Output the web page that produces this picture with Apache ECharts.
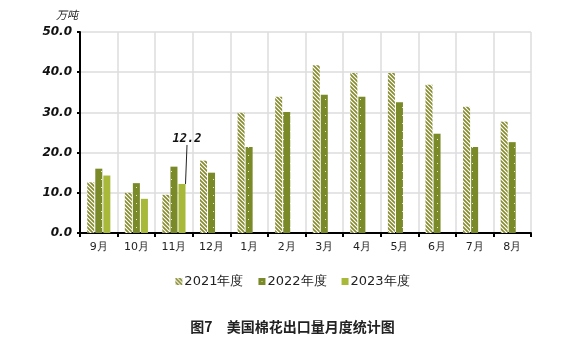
<!DOCTYPE html>
<html>
<head>
<meta charset="utf-8">
<script src="https://cdn.jsdelivr.net/npm/echarts@6/dist/echarts.min.js"></script>
<style>
  html, body { margin: 0; padding: 0; background: #fff; }
  #chart { width: 585px; height: 352px; }
</style>
</head>
<body>
<div id="chart"></div>
<script>
  var months = ['9月', '10月', '11月', '12月', '1月', '2月', '3月', '4月', '5月', '6月', '7月', '8月']
  var data2021 = [12.6, 10.0, 9.5, 18.0, 29.9, 33.9, 41.7, 39.8, 39.8, 36.9, 31.4, 27.7]
  var data2022 = [16.0, 12.4, 16.5, 15.0, 21.4, 30.1, 34.4, 33.9, 32.5, 24.7, 21.4, 22.6]
  var data2023 = [14.3, 8.5, 12.2]
  var yTicks = [0, 10, 20, 30, 40, 50]

  // diagonal stripes for 2021
  function stripePattern() {
    var c = document.createElement('canvas')
    c.width = 4
    c.height = 4
    var ctx = c.getContext('2d')
    ctx.fillStyle = '#ffffff'
    ctx.fillRect(0, 0, 4, 4)
    ctx.strokeStyle = '#858a2a'
    ctx.lineWidth = 1.6
    ctx.beginPath()
    ctx.moveTo(-1, -1)
    ctx.lineTo(5, 5)
    ctx.moveTo(-1, 3)
    ctx.lineTo(1, 5)
    ctx.moveTo(3, -1)
    ctx.lineTo(5, 1)
    ctx.stroke()
    return c
  }
  // dark olive with small white dots for 2022
  function dotPattern() {
    var c = document.createElement('canvas')
    c.width = 7
    c.height = 8
    var ctx = c.getContext('2d')
    ctx.fillStyle = '#7a8a28'
    ctx.fillRect(0, 0, 7, 8)
    ctx.fillStyle = '#e8ecc8'
    ctx.fillRect(3, 3, 1, 1)
    return c
  }

  var chart = echarts.init(document.getElementById('chart'))
  var stripes = { image: stripePattern(), repeat: 'repeat' }
  var dots = { image: dotPattern(), repeat: 'repeat' }

  chart.setOption({
    animation: false,
    backgroundColor: '#fff',
    title: {
      text: '图7　美国棉花出口量月度统计图',
      left: 'center',
      top: 315,
      textStyle: {
        fontFamily: 'Noto Sans CJK SC',
        fontSize: 14,
        fontWeight: 'bold',
        color: '#222',
      },
    },
    legend: {
      top: 270,
      left: 'center',
      itemWidth: 7,
      itemHeight: 7,
      itemGap: 15,
      icon: 'rect',
      textStyle: {
        fontFamily: 'DejaVu Sans',
        fontSize: 13,
        color: '#222',
        padding: [0, 0, 0, -3],
      },
      data: ['2021年度', '2022年度', '2023年度'],
    },
    grid: {
      left: 80,
      right: 54,
      top: 32,
      bottom: 119,
    },
    xAxis: {
      type: 'category',
      data: months,
      axisLine: { lineStyle: { color: '#000', width: 2 } },
      axisTick: { show: true, length: 4, lineStyle: { color: '#000', width: 2 } },
      axisLabel: {
        margin: 9,
        fontFamily: 'DejaVu Sans',
        fontSize: 11,
        color: '#222',
      },
      splitLine: { show: true, lineStyle: { color: '#dcdcdc', width: 1.5 } },
    },
    yAxis: {
      type: 'value',
      min: yTicks[0],
      max: yTicks[yTicks.length - 1],
      interval: 10,
      name: '万吨',
      nameLocation: 'end',
      nameGap: 12,
      nameTextStyle: {
        fontFamily: 'Noto Sans CJK SC',
        fontSize: 11,
        fontStyle: 'italic',
        color: '#222',
        align: 'right',
        padding: [0, 2, 0, 0],
      },
      axisLine: { show: true, lineStyle: { color: '#000', width: 2 } },
      axisTick: { show: true, length: 3, lineStyle: { color: '#000', width: 2 } },
      axisLabel: {
        margin: 8,
        fontFamily: 'DejaVu Sans',
        fontSize: 12,
        fontWeight: 'bold',
        fontStyle: 'italic',
        color: '#111',
        formatter: function (v) {
          return v.toFixed(1)
        },
      },
      splitLine: { show: true, lineStyle: { color: '#dcdcdc', width: 1.5 } },
    },
    series: [
      {
        name: '2021年度',
        type: 'bar',
        barWidth: 7,
        barGap: '15%',
        itemStyle: { color: stripes },
        data: data2021,
      },
      {
        name: '2022年度',
        type: 'bar',
        barWidth: 7,
        barGap: '15%',
        itemStyle: { color: dots },
        data: data2022,
      },
      {
        name: '2023年度',
        type: 'bar',
        barWidth: 7,
        barGap: '15%',
        itemStyle: { color: '#a8b838' },
        data: data2023.map(function (v, i) {
          if (i !== 2) return v
          return {
            value: v,
            label: {
              show: true,
              position: 'top',
              formatter: function (p) {
                return p.value.toFixed(1)
              },
              fontFamily: 'DejaVu Sans Mono',
              fontSize: 12,
              fontWeight: 'bold',
              fontStyle: 'italic',
              color: '#111',
            },
            labelLine: { show: true, lineStyle: { color: '#222', width: 1 } },
          }
        }),
        labelLayout: function (p) {
          if (p.dataIndex === 2) return { dx: 5, dy: -34 }
        },
      },
    ],
  })
</script>
</body>
</html>
